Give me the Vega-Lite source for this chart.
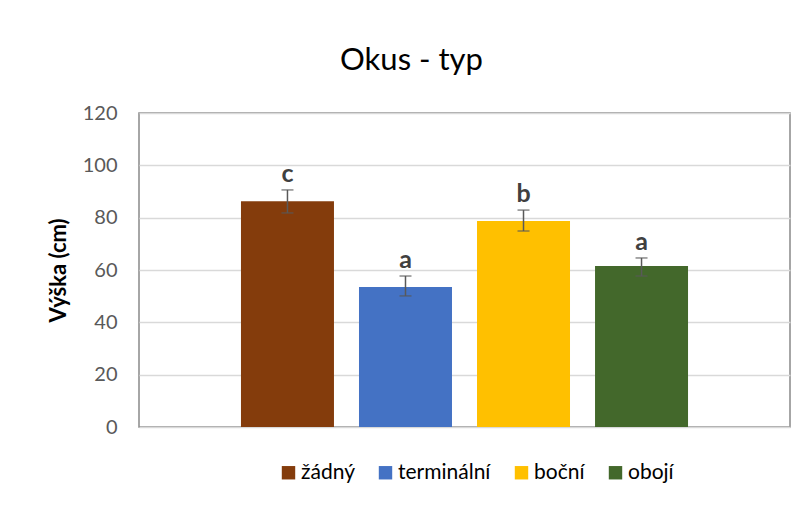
{
  "$schema": "https://vega.github.io/schema/vega-lite/v6.json",
  "width": 651,
  "height": 314,
  "autosize": {"type": "none"},
  "padding": {"left": 139, "top": 113, "right": 19, "bottom": 82},
  "background": "white",
  "title": {"text": "Okus - typ", "fontSize": 31, "font": "Lato", "fontWeight": "normal", "color": "#000000", "anchor": "middle", "dx": -53, "offset": 2, "baseline": "alphabetic"},
  "config": {"view": {"stroke": "#898989", "strokeWidth": 1.5}, "font": "Lato"},
  "data": {"values": [
    {"typ": "žádný", "vyska": 86.3, "lo": 81.8, "hi": 90.6, "pismeno": "c"},
    {"typ": "terminální", "vyska": 53.5, "lo": 50.1, "hi": 57.7, "pismeno": "a"},
    {"typ": "boční", "vyska": 78.7, "lo": 74.9, "hi": 82.9, "pismeno": "b"},
    {"typ": "obojí", "vyska": 61.5, "lo": 57.7, "hi": 64.6, "pismeno": "a"}
  ]},
  "encoding": {
    "x": {"field": "typ", "type": "nominal", "sort": ["žádný", "terminální", "boční", "obojí"], "scale": {"paddingInner": 0.212, "paddingOuter": 0.864}, "axis": null}
  },
  "layer": [
    {
      "mark": {"type": "bar"},
      "encoding": {
        "y": {"field": "vyska", "type": "quantitative", "scale": {"domain": [0, 120]}, "title": "Výška (cm)",
          "axis": {"values": [0, 20, 40, 60, 80, 100, 120], "domain": false, "ticks": false, "grid": true, "gridColor": "#d9d9d9", "gridWidth": 1.5, "labelFontSize": 20, "labelColor": "#595959", "labelPadding": 22, "titleFontSize": 22, "titleFontWeight": "bold", "titleColor": "#000000", "titlePadding": 12}},
        "color": {"field": "typ", "type": "nominal", "sort": ["žádný", "terminální", "boční", "obojí"],
          "scale": {"domain": ["žádný", "terminální", "boční", "obojí"], "range": ["#843C0C", "#4472C4", "#FFC000", "#43682B"]},
          "legend": {"title": null, "orient": "none", "legendX": 139, "legendY": 349, "direction": "horizontal", "columns": 4, "symbolType": "square", "symbolSize": 180, "symbolStrokeWidth": 0, "labelFontSize": 21, "labelColor": "#000000", "labelOffset": 2, "columnPadding": 20}}
      }
    },
    {
      "mark": {"type": "rule", "color": "#595959", "strokeWidth": 1.5},
      "encoding": {"y": {"field": "lo", "type": "quantitative"}, "y2": {"field": "hi"}}
    },
    {
      "mark": {"type": "tick", "color": "#595959", "thickness": 1.5, "size": 12},
      "encoding": {"y": {"field": "lo", "type": "quantitative"}}
    },
    {
      "mark": {"type": "tick", "color": "#595959", "thickness": 1.5, "size": 12},
      "encoding": {"y": {"field": "hi", "type": "quantitative"}}
    },
    {
      "mark": {"type": "text", "fontWeight": "bold", "fontSize": 25, "color": "#404040", "baseline": "alphabetic", "dy": -8},
      "encoding": {"y": {"field": "hi", "type": "quantitative"}, "text": {"field": "pismeno"}}
    }
  ]
}
